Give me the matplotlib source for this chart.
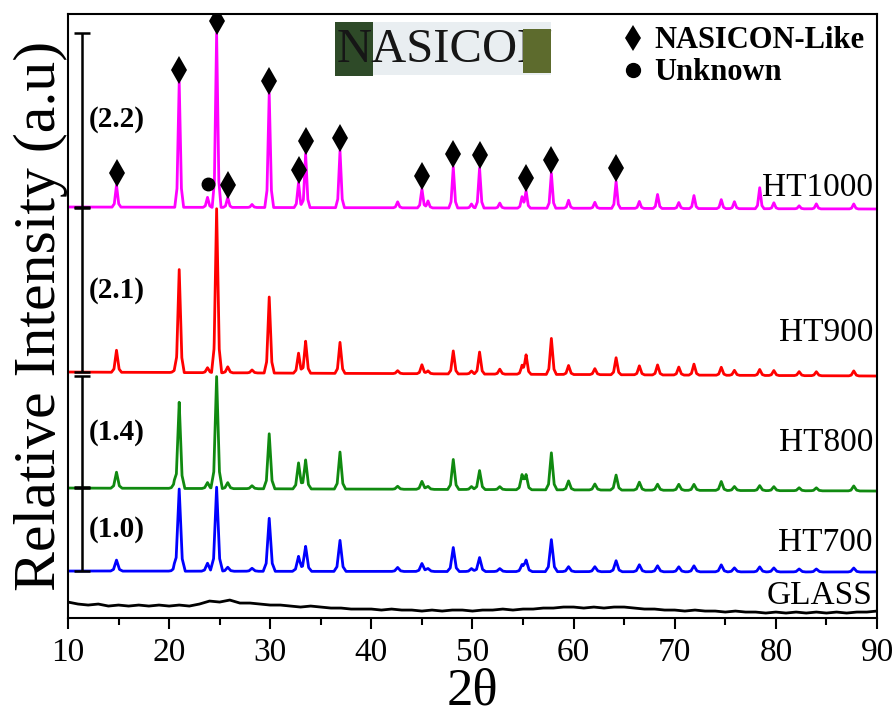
import numpy as np
import matplotlib
matplotlib.use('Agg')
from matplotlib import pyplot as plt
from matplotlib.lines import Line2D
from matplotlib.patches import Rectangle

plt.rcParams['font.family'] = ['Liberation Serif', 'DejaVu Serif']

# peak positions (2theta)
peak_2theta = [14.8, 20.5, 21.0, 23.8, 24.7, 25.8, 28.2, 29.9, 32.8, 33.5,
               36.9, 42.6, 45.0, 45.6, 48.1, 49.9, 50.7, 52.7, 54.9, 55.3,
               57.8, 59.5, 62.1, 64.2, 66.5, 68.3, 70.4, 71.9, 74.6, 75.9,
               78.4, 79.8, 82.3, 84.0, 87.7]

# peak heights above baseline (a.u.)
ht1000 = [22, 0, 125, 10, 174, 10, 3, 114, 25, 54,
          57, 6, 19, 7, 41, 4, 40, 5, 11, 17,
          35, 8, 6, 27, 7, 14, 6, 13, 9, 7,
          21, 6, 3, 5, 5]
ht900 = [22, 2, 103, 5, 164, 6, 3, 76, 20, 32,
         31, 3, 9, 3, 23, 3, 22, 5, 8, 19,
         36, 9, 6, 17, 9, 10, 8, 11, 8, 5,
         6, 5, 4, 4, 5]
ht800 = [16, 5, 86, 6, 112, 6, 3, 55, 26, 29,
         37, 3, 8, 3, 30, 3, 19, 3, 14, 14,
         37, 9, 6, 15, 8, 6, 6, 6, 9, 4,
         5, 4, 3, 3, 5]
ht700 = [11, 3, 82, 8, 84, 4, 3, 53, 15, 25,
         31, 4, 8, 3, 24, 3, 14, 3, 6, 11,
         32, 5, 5, 11, 7, 6, 5, 6, 7, 4,
         5, 4, 3, 3, 4]

# baseline level at 10 and 90 deg (stacked offsets)
base_1000 = [411, 409]
base_900 = [246, 242]
base_800 = [130, 127]
base_700 = [47, 46]

# amorphous glass pattern, one reading per degree 10..90
glass_2theta = list(range(10, 91))
glass_int = [16, 14, 13, 14, 12, 13, 12, 13, 12, 13,
             12, 13, 12, 14, 17, 16, 18, 15, 15, 14,
             13, 13, 12, 11, 12, 11, 10, 10, 9, 9,
             9, 8, 9, 8, 8, 7, 8, 7, 8, 8,
             7, 8, 8, 9, 8, 9, 9, 10, 10, 11,
             11, 10, 11, 10, 11, 11, 10, 9, 9, 8,
             8, 7, 8, 7, 7, 6, 7, 6, 6, 5,
             6, 5, 6, 5, 6, 5, 6, 5, 6, 6, 7]

ratio_labels = ['(2.2)', '(2.1)', '(1.4)', '(1.0)']
sample_names = ['HT1000', 'HT900', 'HT800', 'HT700', 'GLASS']

nasicon_2theta = [14.8, 21.0, 24.7, 25.8, 29.9, 32.8, 33.5, 36.9,
                  45.0, 48.1, 50.7, 55.3, 57.8, 64.2]
unknown_2theta = [23.8]


def pattern(x, base, heights, w):
    y = np.interp(x, [10, 90], base)
    for p, h in zip(peak_2theta, heights):
        y = y + np.interp(x, [p - 2 * w, p - w, p, p + w, p + 2 * w],
                          [0, 0.15 * h, h, 0.15 * h, 0])
    return y


def main():
    fig = plt.figure(figsize=(8.93, 7.17), dpi=100)
    ax = fig.add_axes([0.0761, 0.138, 0.906, 0.8425])

    x = np.arange(10, 90.001, 0.02)
    series = [(base_1000, ht1000, 0.22, '#ff00ff'),
              (base_900, ht900, 0.25, '#ff0000'),
              (base_800, ht800, 0.28, '#108a10'),
              (base_700, ht700, 0.3, '#0000ff')]
    for base, hts, w, col in series:
        ax.plot(x, pattern(x, base, hts, w), color=col, lw=2.0)
    ax.plot(glass_2theta, glass_int, color='k', lw=2.0)

    # markers above HT1000 peaks
    top = [base_1000[0] + ht1000[peak_2theta.index(p)] for p in nasicon_2theta]
    ax.plot(nasicon_2theta, np.array(top) + 12, 'kd', ms=14, mew=0)
    top_u = [base_1000[0] + ht1000[peak_2theta.index(p)] for p in unknown_2theta]
    ax.plot(unknown_2theta, np.array(top_u) + 13, 'ko', ms=9)

    # scale bars: baseline to highest peak
    bar_x = 11.4
    for (base, hts, w, col), lab in zip(series, ratio_labels):
        b = base[0]
        t = b + max(hts)
        ax.errorbar([bar_x], [(b + t) / 2], yerr=[(t - b) / 2], fmt='none',
                    ecolor='k', elinewidth=1.8, capsize=6, capthick=1.8)
        ax.text(12.1, (b + t) / 2, lab, fontsize=21, fontweight='bold',
                ha='left', va='center')

    label_y = [430, 285, 175, 75, 22]
    for name, ly in zip(sample_names, label_y):
        ax.text(89.6, ly, name, fontsize=24, ha='right', va='center')

    # NASICON picture label
    ax.add_patch(Rectangle((0.330, 0.899), 0.267, 0.088, transform=ax.transAxes,
                           facecolor='#e9eef1', edgecolor='none', zorder=3))
    ax.add_patch(Rectangle((0.330, 0.897), 0.047, 0.090, transform=ax.transAxes,
                           facecolor='#2e4a28', edgecolor='none', zorder=3))
    ax.text(0.332, 0.940, 'NASICON', transform=ax.transAxes, fontsize=35,
            color='#161616', ha='left', va='center', zorder=4)
    ax.add_patch(Rectangle((0.562, 0.903), 0.035, 0.072, transform=ax.transAxes,
                           facecolor='#5d6b2d', edgecolor='none', zorder=5))

    handles = [Line2D([], [], ls='none', marker='d', color='k', ms=13, mew=0),
               Line2D([], [], ls='none', marker='o', color='k', ms=10)]
    ax.legend(handles, ['NASICON-Like', 'Unknown'], loc='upper right',
              frameon=False, prop={'size': 22, 'weight': 'bold'},
              handlelength=0.6, handletextpad=0.4, labelspacing=0.1,
              borderaxespad=0.3, borderpad=0.1)

    ax.set_xlim(10, 90)
    ax.set_ylim(0, 604)
    ax.set_xticks(range(10, 91, 10))
    ax.set_xticks(range(15, 90, 10), minor=True)
    ax.set_yticks([])
    ax.tick_params(axis='x', which='major', direction='out', length=8,
                   width=1.5, labelsize=24, pad=6)
    ax.tick_params(axis='x', which='minor', direction='out', length=5, width=1.5)
    for s in ax.spines.values():
        s.set_linewidth(1.5)

    ax.set_xlabel('2θ', fontsize=38, labelpad=0)
    ax.set_ylabel('Relative Intensity (a.u)', fontsize=43, labelpad=0)

    fig.savefig('out.png', dpi=100)


if __name__ == '__main__':
    main()
